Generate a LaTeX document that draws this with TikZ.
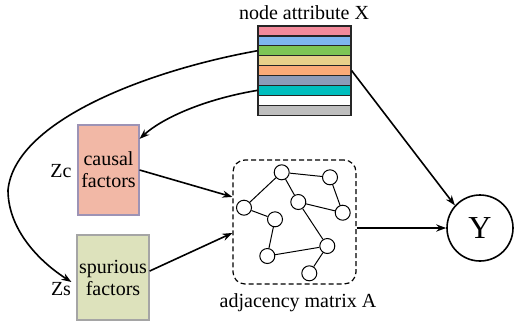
\documentclass[tikz,border=0pt]{standalone}
\usepackage{fontspec}
\setmainfont{Liberation Serif}
\usetikzlibrary{arrows.meta,positioning}
\newcommand{\pixel}{0.5pt}
\definecolor{barpink}{RGB}{243,138,155}
\definecolor{barblue}{RGB}{126,182,240}
\definecolor{bargreen}{RGB}{125,197,85}
\definecolor{bartan}{RGB}{232,208,138}
\definecolor{barorange}{RGB}{250,170,120}
\definecolor{barslate}{RGB}{140,155,185}
\definecolor{barteal}{RGB}{0,190,190}
\definecolor{bargrey}{RGB}{190,190,190}
\definecolor{causalfill}{RGB}{242,184,166}
\definecolor{causaldraw}{RGB}{157,147,181}
\definecolor{spuriousfill}{RGB}{221,226,188}
\definecolor{spuriousdraw}{RGB}{165,165,165}

\begin{document}
\begin{tikzpicture}[x=\pixel,y=-\pixel,
	font=\fontsize{10}{11}\selectfont,
	bar/.style={draw=black!85, line width=0.6pt, minimum width=46.5pt, minimum height=4.95pt, inner sep=0pt},
	factor/.style={line width=0.6pt, align=center, inner sep=0pt},
	vertex/.style={circle, draw, line width=0.5pt, minimum size=7.5pt, inner sep=0pt},
	arr/.style={-{Stealth[length=5pt,width=3.6pt]}, line width=0.8pt}]
	\useasboundingbox (0,0) rectangle (514,323);

	\foreach \c [count=\i] in {barpink,barblue,bargreen,bartan,barorange,barslate,barteal,white,bargrey}
		\node[bar, fill=\c] (bar\i) at (304.5,{26+9.9*(\i-0.5)}) {};
	\node (xlabel) at (304,13) {node attribute X};

	\node[factor, fill=causalfill, draw=causaldraw, minimum width=30.5pt, minimum height=45pt] (causal) at (108.5,170) {causal\\factors};
	\node[factor, fill=spuriousfill, draw=spuriousdraw, minimum width=36pt, minimum height=42.5pt] (spurious) at (113,277.5) {spurious\\factors};
	\node[inner sep=0pt] (zc) at (61,171) {Zc};
	\node[inner sep=0pt] (zs) at (61,289) {Zs};

	\node[draw, rounded corners=6pt, minimum width=61.5pt, minimum height=62pt, dash pattern=on 2.5pt off 1.5pt, line width=0.6pt] (graph) at (294.5,222) {};
	\node (alabel) at (298,303) {adjacency matrix A};
	\foreach \p [count=\i] in {(281.7,172.3),(330,177.3),(244,207.7),(298.3,202),(342.7,212.7),(275,219.3),(267.3,256),(327.3,246),(309.3,273.3)}
		\node[vertex] (g\i) at \p {};
	\foreach \a/\b in {1/2,1/3,1/4,2/5,4/5,3/6,6/7,7/8,4/8,8/9}
		\draw[line width=0.5pt] (g\a) -- (g\b);

	\node[circle, draw, line width=0.8pt, minimum size=33pt, inner sep=0pt, font=\fontsize{16}{16}\selectfont] (Y) at (480,228) {Y};

	\draw[arr] (bar5.east) -- (Y.138);
	\draw[arr] (Y.west -| graph.east) -- (Y.west);
	\draw[arr] (causal.east) -- (graph.158);
	\draw[arr] (spurious.10) -- (graph.190);
	\draw[arr] (bar7.west) .. controls (200,100) and (160,120) .. (causal.45);
	\draw[arr] (bar3.west) .. controls (150,70) and (15,120) .. (8,190) .. controls (8,230) and (40,262) .. (zs.north east);
\end{tikzpicture}
\end{document}
